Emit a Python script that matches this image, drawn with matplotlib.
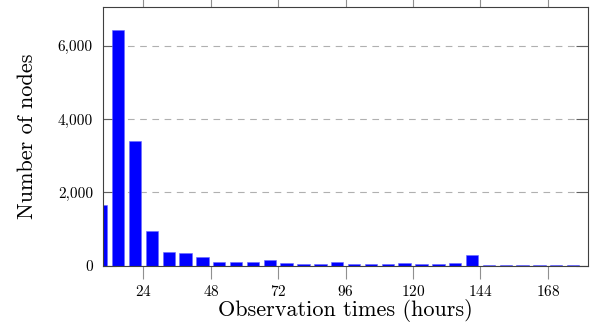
import matplotlib.pyplot as plt
import matplotlib.ticker as mticker

# bin centres (hours) and node counts per 6-hour bin
hours = [9, 15, 21, 27, 33, 39, 45, 51, 57, 63, 69, 75, 81, 87, 93, 99, 105,
         111, 117, 123, 129, 135, 141, 147, 153, 159, 165, 171, 177]
nodes = [1640, 6430, 3410, 940, 360, 345, 225, 105, 105, 90, 150, 60, 55, 50,
         90, 45, 45, 45, 60, 45, 30, 60, 280, 8, 8, 8, 8, 8, 8]

xticks = [24, 48, 72, 96, 120, 144, 168]
yticks = [0, 2000, 4000, 6000]

plt.rcParams['font.family'] = 'serif'
plt.rcParams['font.serif'] = ['cmr10', 'DejaVu Serif']
plt.rcParams['axes.formatter.use_mathtext'] = True

fig = plt.figure(figsize=(5.93, 3.25), dpi=100)
ax = fig.add_axes([0.1732, 0.183, 0.8184, 0.7955])

ax.bar(hours, nodes, width=4.4, color='#0000ff', edgecolor='#6a6aff', linewidth=0.4, zorder=2)

ax.set_xlim(9.5, 182.3)
ax.set_ylim(0, 7060)
ax.set_xticks(xticks)
ax.set_yticks(yticks)
ax.yaxis.set_major_formatter(mticker.FuncFormatter(lambda v, p: f"{int(v):,}"))

ax.grid(axis='y', color='#b0b0b0', linestyle=(0, (6, 5)), linewidth=0.8, zorder=0)
ax.tick_params(axis='x', direction='out', top=True, length=9, color='#909090', width=0.8,
               labelsize=11, pad=4)
ax.tick_params(axis='y', direction='in', right=True, length=9, color='#606060', width=0.8,
               labelsize=11, pad=7)
for s in ax.spines.values():
    s.set_color('#404040')
    s.set_linewidth(0.8)

ax.set_xlabel('Observation times (hours)', fontsize=16, labelpad=0)
ax.set_ylabel('Number of nodes', fontsize=16, labelpad=15)

fig.savefig('out.png', dpi=100)
